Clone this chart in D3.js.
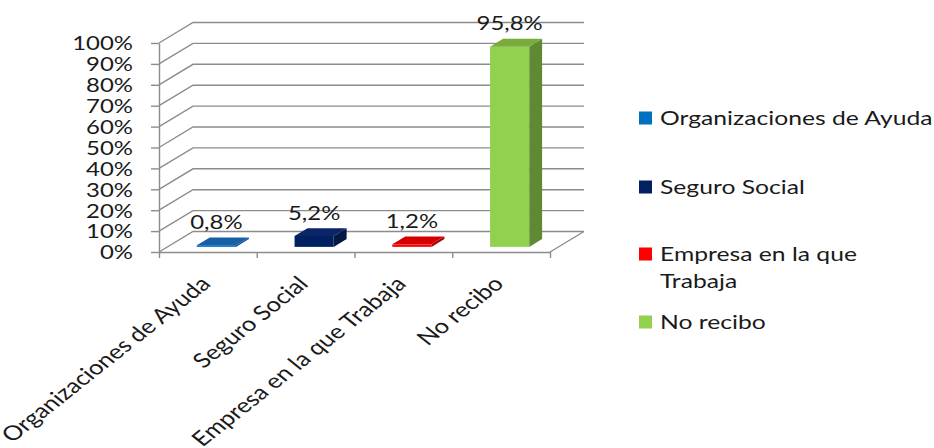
<!DOCTYPE html>
<html>
<head>
<meta charset="utf-8">
<script src="https://cdn.jsdelivr.net/npm/d3@7"></script>
<style>
  html, body { margin: 0; padding: 0; background: #ffffff; }
  svg { display: block; }
  text { font-family: Lato, "Open Sans", sans-serif; fill: #1a1a1a; }
</style>
</head>
<body>
<div id="chart"></div>
<script>
// Categories and values (percent)
const categories = ["Organizaciones de Ayuda", "Seguro Social", "Empresa en la que Trabaja", "No recibo"];
const values = [0.8, 5.2, 1.2, 95.8];
const yTicks = [0, 10, 20, 30, 40, 50, 60, 70, 80, 90, 100];
const legendLines = [["Organizaciones de Ayuda"], ["Seguro Social"], ["Empresa en la que", "Trabaja"], ["No recibo"]];
const baseColors = ["#0070C0", "#002060", "#FF0000", "#92D050"];
const topColors  = ["#1660A6", "#0A2668", "#D40000", "#78AD3E"];
const sideColors = ["#0A4F8C", "#051844", "#A80000", "#5F8A33"];

const W = 934, H = 448;
const FONT = 19;        // tick and value labels, px
const FONT_LEG = 19.6;  // legend
const FONT_CAT = 20.3;  // category labels
const SX = 1.26;        // horizontal text stretch
const DX = 34, DY = -20.5;   // depth offset of the back wall
const F0 = 0.25, F1 = 0.63;  // bar depth slice

const svg = d3.select("#chart").append("svg")
  .attr("width", W).attr("height", H)
  .style("background", "#fff");

const x = d3.scaleBand().domain(categories).range([159, 550]).paddingInner(0).paddingOuter(0);
const xEdge = d3.scaleLinear().domain([0, categories.length]).range([159, 550]);
const y = d3.scaleLinear().domain([0, 100]).range([252, 43]);

const gridColor = "#8c8c8c";

// Back wall and left wall gridlines
const grid = svg.append("g").attr("fill", "none").attr("stroke", gridColor).attr("stroke-width", 1.4);
grid.selectAll("path.g").data(yTicks).join("path")
  .attr("class", "g")
  .attr("d", v => {
    const yy = y(v);
    return `M${x.range()[0]},${yy} L${x.range()[0] + DX},${yy + DY} L${x.range()[1] + DX},${yy + DY}`;
  });
// Right edge of the floor
grid.append("path")
  .attr("d", `M${x.range()[1]},${y(0)} L${x.range()[1] + DX},${y(0) + DY}`);

// Y axis
const yAxis = svg.append("g")
  .attr("transform", `translate(${x.range()[0]},0)`)
  .call(d3.axisLeft(y).tickValues(yTicks).tickSize(8).tickSizeOuter(0).tickFormat(d => d + "%"));
yAxis.select(".domain").attr("stroke", gridColor).attr("stroke-width", 1.4);
yAxis.selectAll(".tick line").attr("stroke", gridColor).attr("stroke-width", 1.4);
yAxis.selectAll(".tick text")
  .attr("x", null)
  .attr("dy", "0.36em")
  .attr("transform", `translate(-26,0) scale(${SX},1)`)
  .style("font-size", FONT + "px")
  .style("font-family", "Lato, sans-serif")
  .attr("fill", "#1a1a1a");

// X axis line and tick marks at category boundaries
const xAxis = svg.append("g")
  .attr("transform", `translate(0,${y(0)})`)
  .call(d3.axisBottom(xEdge).tickValues(d3.range(categories.length + 1)).tickSize(6).tickSizeOuter(0).tickFormat(""));
xAxis.select(".domain").attr("stroke", gridColor).attr("stroke-width", 1.4);
xAxis.selectAll(".tick line").attr("stroke", gridColor).attr("stroke-width", 1.4);

// Category labels, rotated
svg.append("g").selectAll("text").data(categories).join("text")
  .attr("text-anchor", "end")
  .attr("transform", d => `translate(${x(d) + x.bandwidth() / 2 + 4},285) scale(${SX},1) rotate(-45)`)
  .style("font-size", FONT_CAT + "px")
  .text(d => d);

// 3D bars
const bw = x.bandwidth() * 0.4;
const ddx = DX * (F1 - F0), ddy = DY * (F1 - F0);
const bars = svg.append("g").selectAll("g").data(values).join("g");
function geom(v, i) {
  const xc = x(categories[i]) + x.bandwidth() / 2;
  const x0 = xc - bw / 2 + DX * F0, x1 = x0 + bw;
  const yb = y(0) + DY * F0, yt = y(v) + DY * F0;
  return { x0, x1, yb, yt, xc };
}
bars.append("path")
  .attr("fill", (v, i) => sideColors[i])
  .attr("d", (v, i) => {
    const g = geom(v, i);
    return `M${g.x1},${g.yt} L${g.x1 + ddx},${g.yt + ddy} L${g.x1 + ddx},${g.yb + ddy} L${g.x1},${g.yb} Z`;
  });
bars.append("rect")
  .attr("fill", (v, i) => baseColors[i])
  .attr("x", (v, i) => geom(v, i).x0)
  .attr("y", (v, i) => geom(v, i).yt)
  .attr("width", bw)
  .attr("height", (v, i) => geom(v, i).yb - geom(v, i).yt);
bars.append("path")
  .attr("fill", (v, i) => topColors[i])
  .attr("d", (v, i) => {
    const g = geom(v, i);
    return `M${g.x0},${g.yt} L${g.x1},${g.yt} L${g.x1 + ddx},${g.yt + ddy} L${g.x0 + ddx},${g.yt + ddy} Z`;
  });

// Value labels
const fmt = v => d3.format(".1f")(v).replace(".", ",") + "%";
svg.append("g").selectAll("text").data(values).join("text")
  .attr("text-anchor", "middle")
  .attr("dy", "0.36em")
  .attr("transform", (v, i) => {
    const g = geom(v, i);
    return `translate(${g.x0 + bw / 2},${g.yt - 23}) scale(${SX},1)`;
  })
  .style("font-size", FONT + "px")
  .text(v => fmt(v));

// Legend
const legendY = [118, 187, 254, 322];
const lg = svg.append("g").selectAll("g").data(legendLines).join("g")
  .attr("transform", (d, i) => `translate(639,${legendY[i]})`);
lg.append("rect")
  .attr("x", 0).attr("y", -6.5).attr("width", 13).attr("height", 13)
  .attr("fill", (d, i) => baseColors[i]);
lg.each(function (lines) {
  const t = d3.select(this).append("text")
    .attr("transform", `translate(21,0) scale(${SX},1)`)
    .style("font-size", FONT_LEG + "px");
  lines.forEach((ln, k) => {
    t.append("tspan").attr("x", 0).attr("y", k * 27).attr("dy", "0.36em").text(ln);
  });
});
</script>
</body>
</html>
